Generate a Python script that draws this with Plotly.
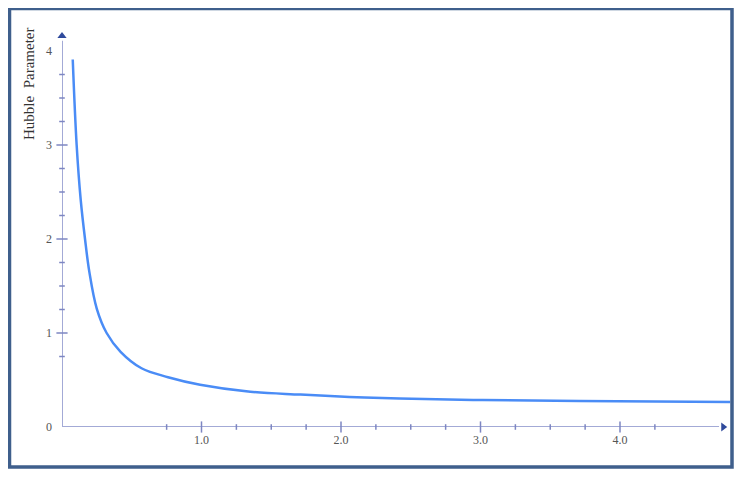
"""Hubble parameter vs time."""

import plotly.graph_objects as go

# curve
TIME = [0.077, 0.105, 0.134, 0.165, 0.196, 0.249, 0.32, 0.42, 0.57, 0.76,
        0.99, 1.35, 1.71, 2.06, 2.42, 3.0, 3.71, 4.79]
HUBBLE = [3.91, 3.0, 2.42, 2.0, 1.65, 1.26, 1.0, 0.80, 0.625, 0.53,
          0.45, 0.375, 0.345, 0.32, 0.303, 0.287, 0.277, 0.266]

X_MAJOR = [1, 2, 3, 4]
X_MAJOR_TEXT = ["1.0", "2.0", "3.0", "4.0"]
X_MINOR = [0.75, 1.25, 1.5, 1.75, 2.25, 2.5, 2.75, 3.25, 3.5, 3.75, 4.25]
Y_MAJOR = [1, 2, 3]
Y_LABELS = [0, 1, 2, 3, 4]
Y_MINOR = [0.75, 1.25, 1.5, 1.75, 2.25, 2.5, 2.75, 3.25, 3.5, 3.75]

X_END = 4.74
Y_END = 4.16

AXIS_COLOR = "#a3aad6"
TICK_COLOR = "#7d86c2"
ARROW_COLOR = "#2f4a9c"
CURVE_COLOR = "#4a8cf6"
SERIF = "Liberation Serif, Times New Roman, serif"

# page body adds an 8px offset; target plot area: x 62..742, y 8..427
OFF = 8
W, H = 742, 477
L = 62 - OFF
R = OFF
T = 0
B = H - (427 - OFF)
PW, PH = W - L - R, H - T - B


def px(x):
    return (x - OFF - L) / PW


def py(y):
    return (PH - (y - OFF)) / PH


fig = go.Figure()

# axis lines
fig.add_trace(go.Scatter(
    x=[0, X_END - 0.03], y=[0, 0], mode="lines",
    line=dict(color=AXIS_COLOR, width=2), cliponaxis=False,
    hoverinfo="skip", showlegend=False,
))
fig.add_trace(go.Scatter(
    x=[0, 0], y=[0, Y_END - 0.05], mode="lines",
    line=dict(color=AXIS_COLOR, width=2), cliponaxis=False,
    hoverinfo="skip", showlegend=False,
))

# ticks
fig.add_trace(go.Scatter(
    x=X_MAJOR, y=[0] * len(X_MAJOR), mode="markers",
    marker=dict(symbol="line-ns", size=8, line=dict(color=TICK_COLOR, width=1.5)),
    cliponaxis=False, hoverinfo="skip", showlegend=False,
))
fig.add_trace(go.Scatter(
    x=X_MINOR, y=[0] * len(X_MINOR), mode="markers",
    marker=dict(symbol="line-ns", size=4, line=dict(color=TICK_COLOR, width=1.5)),
    cliponaxis=False, hoverinfo="skip", showlegend=False,
))
fig.add_trace(go.Scatter(
    x=[0] * len(Y_MAJOR), y=Y_MAJOR, mode="markers",
    marker=dict(symbol="line-ew", size=8, line=dict(color=TICK_COLOR, width=1.5)),
    cliponaxis=False, hoverinfo="skip", showlegend=False,
))
fig.add_trace(go.Scatter(
    x=[0] * len(Y_MINOR), y=Y_MINOR, mode="markers",
    marker=dict(symbol="line-ew", size=4, line=dict(color=TICK_COLOR, width=1.5)),
    cliponaxis=False, hoverinfo="skip", showlegend=False,
))

# arrowheads
fig.add_trace(go.Scatter(
    x=[X_END], y=[0], mode="markers",
    marker=dict(symbol="triangle-right", size=8, color=ARROW_COLOR),
    cliponaxis=False, hoverinfo="skip", showlegend=False,
))
fig.add_trace(go.Scatter(
    x=[0], y=[Y_END], mode="markers",
    marker=dict(symbol="triangle-up", size=8, color=ARROW_COLOR),
    cliponaxis=False, hoverinfo="skip", showlegend=False,
))

# curve
fig.add_trace(go.Scatter(
    x=TIME, y=HUBBLE, mode="lines",
    line=dict(color=CURVE_COLOR, width=2.5, shape="spline", smoothing=1.0),
    name="H(t)", showlegend=False,
    hovertemplate="t: %{x:.2f}<br>H: %{y:.2f}<extra></extra>",
))

fig.add_annotation(
    x=4.42, y=-0.135, text="<b>Time  (t)</b>", showarrow=False,
    font=dict(family=SERIF, size=11, color="#444444"),
)
fig.add_annotation(
    x=px(29), y=py(84), xref="paper", yref="paper",
    xanchor="center", yanchor="middle",
    text="Hubble  Parameter", textangle=-90, showarrow=False,
    font=dict(family=SERIF, size=15, color="#333333"),
)

# outer frame
fig.add_shape(
    type="rect", xref="paper", yref="paper",
    x0=px(9.5), x1=px(732), y0=py(467), y1=py(8.5),
    line=dict(color="#3f5f8c", width=3.5), layer="above",
)

fig.update_layout(
    width=W, height=H,
    margin=dict(l=L, r=R, t=T, b=B),
    paper_bgcolor="white", plot_bgcolor="white",
    xaxis=dict(
        range=[0, PW / 139.5], tickvals=X_MAJOR, ticktext=X_MAJOR_TEXT,
        showgrid=False, zeroline=False, showline=False, ticks="",
        ticklabelstandoff=4,
        tickfont=dict(family=SERIF, size=12, color="#555555"),
    ),
    yaxis=dict(
        range=[0, PH / 94.0], tickvals=Y_LABELS,
        showgrid=False, zeroline=False, showline=False, ticks="",
        ticklabelstandoff=9,
        tickfont=dict(family=SERIF, size=12, color="#555555"),
    ),
)

fig.write_html("out.html")
